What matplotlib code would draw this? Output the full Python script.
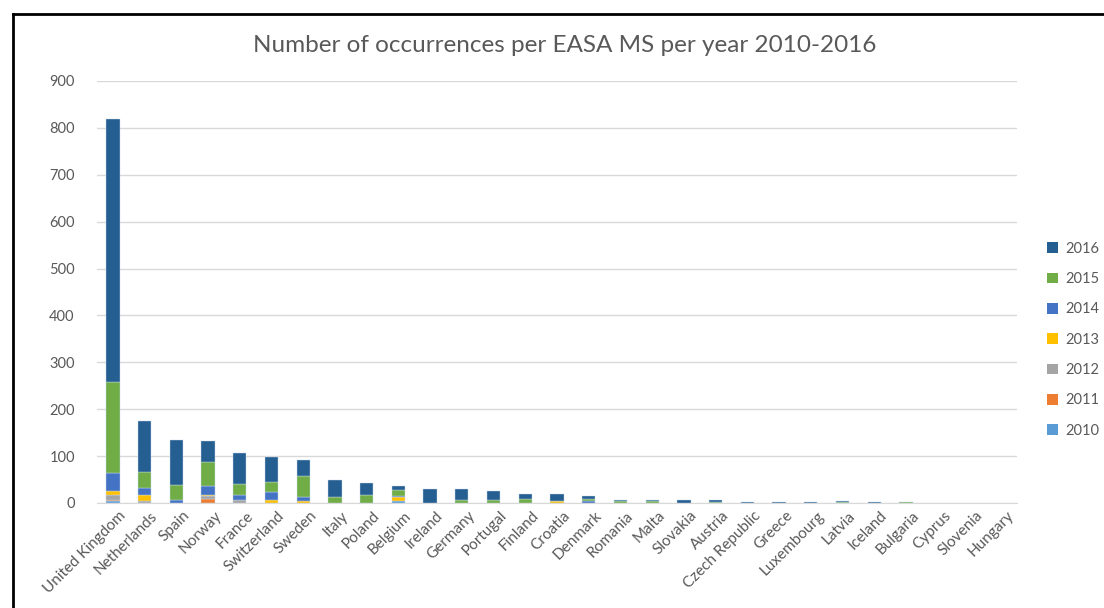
import matplotlib
matplotlib.use("Agg")
import matplotlib.pyplot as plt
from matplotlib.lines import Line2D
from matplotlib.patches import Patch
from matplotlib.transforms import ScaledTranslation
import numpy as np

countries = ["United Kingdom", "Netherlands", "Spain", "Norway", "France", "Switzerland",
             "Sweden", "Italy", "Poland", "Belgium", "Ireland", "Germany", "Portugal",
             "Finland", "Croatia", "Denmark", "Romania", "Malta", "Slovakia", "Austria",
             "Czech Republic", "Greece", "Luxembourg", "Latvia", "Iceland", "Bulgaria",
             "Cyprus", "Slovenia", "Hungary"]
years = ["2010", "2011", "2012", "2013", "2014", "2015", "2016"]

y2010 = [4, 0, 0, 1, 1, 1, 0, 0, 0, 5, 0, 0, 0, 0, 0, 0, 0, 0, 0, 0, 0, 0, 0, 0, 0, 0, 0, 0, 0]
y2011 = [3, 0, 0, 7, 0, 0, 0, 0, 0, 0, 0, 0, 0, 0, 0, 0, 0, 0, 0, 0, 0, 0, 0, 0, 0, 0, 0, 0, 0]
y2012 = [10, 4, 0, 6, 6, 0, 0, 0, 0, 0, 0, 0, 0, 0, 0, 0, 0, 0, 0, 0, 0, 0, 0, 0, 0, 0, 0, 0, 0]
y2013 = [9, 12, 0, 4, 0, 6, 4, 0, 0, 8, 0, 0, 0, 0, 4, 0, 0, 0, 0, 0, 0, 0, 0, 0, 0, 0, 0, 0, 0]
y2014 = [38, 17, 7, 18, 9, 17, 9, 0, 0, 2, 0, 0, 1, 0, 0, 4, 0, 0, 0, 0, 0, 0, 0, 0, 0, 0, 0, 0, 0]
y2015 = [193, 34, 31, 51, 25, 20, 45, 12, 17, 13, 0, 6, 5, 8, 1, 4, 4, 4, 0, 3, 0, 0, 0, 3, 0, 3, 0, 0, 0]
y2016 = [562, 108, 97, 45, 66, 54, 34, 37, 26, 9, 29, 23, 20, 12, 15, 6, 2, 2, 6, 3, 3, 3, 3, 2, 3, 0, 0, 0, 0]

series = [y2010, y2011, y2012, y2013, y2014, y2015, y2016]
colors = ["#5B9BD5", "#ED7D31", "#A5A5A5", "#FFC000", "#4472C4", "#70AD47", "#255E91"]

plt.rcParams['font.family'] = ['Lato', 'DejaVu Sans']

fig = plt.figure(figsize=(11.04, 6.08), dpi=100)
ax = fig.add_axes([97/1104, 105/608, 920/1104, 422/608])

x = np.arange(len(countries))
bottom = np.zeros(len(countries))
for vals, col, yr in zip(series, colors, years):
    v = np.array(vals, dtype=float)
    lw = np.where(v > 0, 0.3, 0.0)
    ax.bar(x, v, width=0.42, bottom=bottom, color=col, edgecolor="#C9DCEE",
           linewidth=lw, label=yr, zorder=3)
    bottom += v

ax.set_xlim(-0.5, len(countries) - 0.5)
ax.set_ylim(0, 900)
ax.set_yticks(range(0, 901, 100))
ax.yaxis.grid(True, color="#D9D9D9", linewidth=1.0, zorder=0)
ax.set_axisbelow(True)
for s in ["top", "right", "left"]:
    ax.spines[s].set_visible(False)
ax.spines["bottom"].set_color("#D9D9D9")
ax.tick_params(axis="both", length=0, colors="#595959", labelsize=10.5)
ax.tick_params(axis="y", pad=16)
ax.set_xticks(x)
ax.set_xticklabels(countries, rotation=45, ha="right", rotation_mode="anchor", fontsize=11)
ax.tick_params(axis="x", pad=4)
offset = ScaledTranslation(6/100, 0, fig.dpi_scale_trans)
for lab in ax.get_xticklabels():
    lab.set_transform(lab.get_transform() + offset)

fig.text(565/1104, 1 - 45/608, "Number of occurrences per EASA MS per year 2010-2016",
         ha="center", va="center", fontsize=17.5, color="#595959")

handles = [Patch(facecolor=c, edgecolor="none", label=y) for c, y in zip(colors, years)][::-1]
leg = fig.legend(handles=handles, loc="upper left", bbox_to_anchor=(1041/1104, 1 - 236/608),
                 frameon=False, fontsize=10.5, handlelength=0.75, handleheight=0.75,
                 labelspacing=1.12, handletextpad=0.5, borderaxespad=0)
for t in leg.get_texts():
    t.set_color("#595959")

fig.add_artist(Line2D([13/1104, 13/1104], [0, 1 - 14/608], color="black", linewidth=2,
                      transform=fig.transFigure))
fig.add_artist(Line2D([13/1104, 1.0], [1 - 14/608, 1 - 14/608], color="black", linewidth=2,
                      transform=fig.transFigure))

fig.savefig("out.png", dpi=100, facecolor="white")
